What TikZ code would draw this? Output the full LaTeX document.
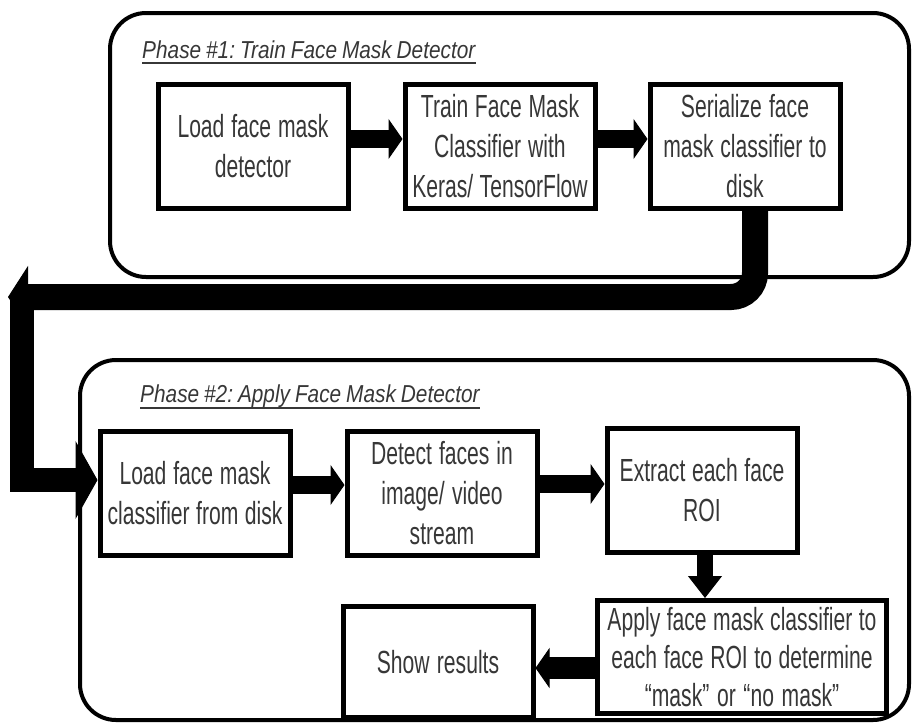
\documentclass[tikz,border=0pt]{standalone}
\usepackage{fontspec}
\usepackage{tikz}
\usepackage{color}
\usetikzlibrary{arrows.meta}

\newfontfamily\boxfont{Liberation Sans}[FakeStretch=0.66, WordSpace=0.66]
\newfontfamily\phasefont{Liberation Sans}[FakeStretch=0.85, WordSpace=0.85]
\definecolor{textgray}{RGB}{55,55,55}
\frenchspacing

\begin{document}
\begin{tikzpicture}[%
      x=1pt, y=-1pt,
      procbox/.style={draw, line width=5pt, inner sep=0pt, align=center,
        text width=190pt, minimum height=124pt, text=textgray,
        font=\boxfont\fontsize{32}{40}\selectfont,
        execute at begin node={\spaceskip=6.2pt plus 2pt\relax\xspaceskip=\spaceskip}},
      phasebox/.style={draw, line width=4pt, rounded corners=36pt, inner sep=0pt},
      phasetitle/.style={anchor=base west, inner sep=0pt, text=textgray,
        font=\phasefont\itshape\fontsize{24.5}{28}\selectfont},
      titleline/.style={draw=textgray, line width=1.6pt},
      blockarrow/.style={line width=18pt, -{Triangle[length=14pt,width=40pt,line width=1pt]}},
      bigarrow/.style={line width=26pt, -{Triangle[length=20pt,width=62pt,line width=1pt]}},
      ]
      \useasboundingbox (0,0) rectangle (912,723);

      % phase boxes
      \node [phasebox, minimum width=799pt, minimum height=264pt] (phaseone) at (509.5,145) {};
      \node [phasebox, minimum width=829pt, minimum height=360pt] (phasetwo) at (494.5,540) {};

      \node [phasetitle] (titleone) at (142,58) {Phase \#1: Train Face Mask Detector};
      \node [phasetitle] (titletwo) at (140,402) {Phase \#2: Apply Face Mask Detector};
      \draw [titleline] ([yshift=-5pt]titleone.base west) -- ([yshift=-5pt]titleone.base east);
      \draw [titleline] ([yshift=-6pt]titletwo.base west) -- ([yshift=-6pt]titletwo.base east);

      % phase 1
      \node [procbox] (load) at (253,146) {Load face mask\\detector};
      \node [procbox] (train) at (500,146) {Train Face Mask\\Classifier with\\Keras/ TensorFlow};
      \node [procbox] (serial) at (745,146) {Serialize face\\mask classifier to\\disk};

      \draw [blockarrow] ([yshift=7pt]load.east) -- ([yshift=7pt]train.west);
      \draw [blockarrow] ([yshift=7pt]train.east) -- ([yshift=7pt]serial.west);

      % phase 2
      \node [procbox] (loadcls) at (195,493) {Load face mask\\classifier from disk};
      \node [procbox] (detect) at (442,493) {Detect faces in\\image/ video\\stream};
      \node [procbox] (extract) at (702,490) {Extract each face\\ROI};
      \node [procbox, text width=289pt, minimum height=113pt,
        font=\boxfont\fontsize{32}{38}\selectfont] (apply) at (742,657)
        {Apply face mask classifier to\\each face ROI to determine\\“mask” or “no mask”};
      \node [procbox, minimum height=111pt] (show) at (438,662) {Show results};

      \draw [blockarrow] ([yshift=8pt]loadcls.east) -- ([yshift=8pt]detect.west);
      \draw [blockarrow] ([yshift=9pt]detect.east) -- ([yshift=9pt]detect.east -| extract.west);
      \draw [blockarrow, line width=16pt, -{Triangle[length=22pt,width=34pt,line width=1pt]}]
        ([xshift=3pt]extract.south) -- ([xshift=3pt]extract.south |- apply.north);
      \draw [blockarrow, line width=22pt] ([yshift=-11pt]apply.west) -- ([yshift=-11pt]apply.west -| show.east);

      % from phase 1 to phase 2
      \coordinate (turn) at (22,300);
      \coordinate (leftend) at (8,297);
      \draw [bigarrow, line width=24pt, -{Triangle[length=22pt,width=78pt,line width=1pt]}]
        (turn) |- ([yshift=13pt]loadcls.west);
      \draw [bigarrow, rounded corners=24pt] ([xshift=10pt]serial.south) |- (leftend);
      \end{tikzpicture}
\end{document}
